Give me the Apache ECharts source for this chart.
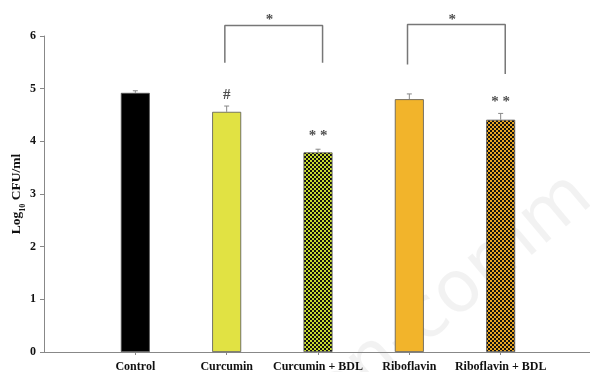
<!DOCTYPE html>
<html><head><meta charset="utf-8">
<script src="https://cdn.jsdelivr.net/npm/echarts@6/dist/echarts.min.js"></script>
<style>html,body{margin:0;padding:0;background:#fff}#c{width:590px;height:372px}</style>
</head><body><div id="c"></div>
<script>
const categories = ['Control','Curcumin','Curcumin + BDL','Riboflavin','Riboflavin + BDL'];
const means = [4.92, 4.56, 3.79, 4.80, 4.41];
const errors = [0.04, 0.11, 0.06, 0.10, 0.12];
const yTicks = [0,1,2,3,4,5,6];
const markTexts = ['', '#', '* *', '', '* *'];
const markY = [null, 4.88, 4.09, null, 4.75];
const bracketLines = [
  [[1.98,5.49],[1.98,6.2],[3.05,6.2],[3.05,5.49]],
  [[3.98,5.46],[3.98,6.22],[5.05,6.22],[5.05,5.28]]
];
const bracketStars = [[2.47,6.31,'*'],[4.47,6.31,'*']];

function checker(c1, c2, s){
  const cv = document.createElement('canvas');
  cv.width = cv.height = 2*s;
  const ctx = cv.getContext('2d');
  ctx.fillStyle = c1; ctx.fillRect(0,0,2*s,2*s);
  ctx.fillStyle = c2; ctx.fillRect(0,0,s,s); ctx.fillRect(s,s,s,s);
  return cv;
}
const fills = [
  '#000000',
  '#e1e243',
  {image: checker('#c9dc2e','#111111',2), repeat:'repeat'},
  '#f2b42b',
  {image: checker('#e9a623','#111111',2), repeat:'repeat'}
];
const FONT = 'Liberation Serif';
const chart = echarts.init(document.getElementById('c'), null, {renderer:'canvas'});
const barData = means.map((v,i)=>({value:[i+1,v], itemStyle:{color:fills[i], borderColor:'#555', borderWidth:0.8}}));
chart.setOption({
  animation:false,
  grid:{left:44, width:548, top:36, bottom:20, containLabel:false, outerBoundsMode:'none'},
  xAxis:{type:'value', min:0, max:6, splitLine:{show:false},
    axisLine:{lineStyle:{color:'#888', width:1}},
    axisTick:{customValues:[1,2,3,4,5], length:3, lineStyle:{color:'#888'}},
    axisLabel:{customValues:[1,2,3,4,5], formatter:v=>categories[Math.round(v)-1]||'', fontFamily:FONT, fontWeight:'bold', fontSize:12, color:'#111', margin:9}
  },
  yAxis:{type:'value', min:0, max:6, interval:1, splitLine:{show:false},
    axisLine:{show:true, lineStyle:{color:'#888', width:1}},
    axisTick:{show:true, length:4, lineStyle:{color:'#888'}},
    axisLabel:{formatter:v=>String(v), fontFamily:FONT, fontWeight:'bold', fontSize:12, color:'#111', margin:8},
    name:'{b|Log}{s|10}{b| CFU/ml}', nameLocation:'middle', nameRotate:90, nameGap:20, nameMoveOverlap:false,
    nameTextStyle:{rich:{
      b:{fontFamily:FONT, fontWeight:'bold', fontSize:13.5, color:'#111', lineHeight:16, verticalAlign:'bottom'},
      s:{fontFamily:FONT, fontWeight:'bold', fontSize:8, color:'#111', lineHeight:16, verticalAlign:'bottom', padding:[0,0,-3,0]}
    }}
  },
  graphic:[{type:'text', left:265, top:160, rotation:40*Math.PI/180, z:-1,
    style:{text:'non-comm', fontSize:72, fontFamily:'DejaVu Sans', fill:'rgba(0,0,0,0.05)'}}],
  series:[
    {type:'bar', data:barData, barWidth:29, z:2},
    {type:'custom', z:3, clip:false,
      data: means.map((v,i)=>[i+1, v, v+errors[i]]),
      renderItem:(params, api)=>{
        const x = api.coord([api.value(0), 0])[0];
        const y0 = api.coord([0, api.value(1)])[1];
        const y1 = api.coord([0, api.value(2)])[1];
        const st = {stroke:'#888', lineWidth:1};
        return {type:'group', children:[
          {type:'line', shape:{x1:x, y1:y0, x2:x, y2:y1}, style:st},
          {type:'line', shape:{x1:x-2.5, y1:y1, x2:x+2.5, y2:y1}, style:st}
        ]};
      }
    },
    ...bracketLines.map(pts=>({type:'line', data:pts, clip:false, symbol:'none', z:4,
      lineStyle:{color:'#777', width:1.5}})),
    {type:'scatter', clip:false, symbolSize:0, z:5,
      data: markTexts.map((t,i)=>t?{value:[i+1, markY[i]], t:t}:null).filter(Boolean).concat(bracketStars.map(s=>({value:[s[0],s[1]], t:s[2]}))),
      label:{show:true, position:'inside', formatter:p=>p.data.t, fontFamily:FONT, fontWeight:'bold', fontSize:15, color:'#222'}
    }
  ]
});
</script>
</body></html>
